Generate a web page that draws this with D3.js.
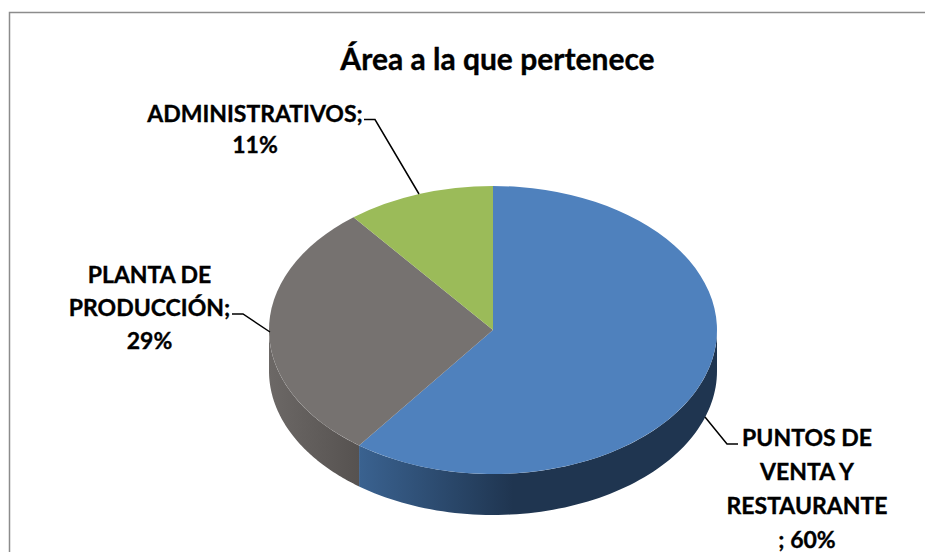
<!DOCTYPE html>
<html><head><meta charset="utf-8">
<script src="https://cdn.jsdelivr.net/npm/d3@7"></script>
<style>html,body{margin:0;padding:0;background:#fff;overflow:hidden}svg{display:block}text{font-family:Lato,"Open Sans",sans-serif;font-weight:700;fill:#000;stroke:#000;stroke-width:.35px}</style>
</head><body><div id="c"></div>
<script>
const categories = ["PUNTOS DE VENTA Y RESTAURANTE", "PLANTA DE PRODUCCIÓN", "ADMINISTRATIVOS"];
const values = [60.2, 29.1, 10.7];
const topColors = ["#4f81bd", "#767270", "#9bbb59"];
const sideColors = [["#3a6290", "#1f3550"], ["#6c6866", "#565250"], ["#7a9446", "#7a9446"]];
const labelLines = [["PUNTOS DE", "VENTA Y", "RESTAURANTE", "; 60%"], ["PLANTA DE", "PRODUCCIÓN;", "29%"], ["ADMINISTRATIVOS;", "11%"]];
const title = "Área a la que pertenece";

const W = 925, H = 552;
const cx = 493, cy = 330, rx = 224, ry = 144, depth = 41;
const svg = d3.select("#c").append("svg").attr("width", W).attr("height", H);

svg.append("rect").attr("x", 9.5).attr("y", 12.5).attr("width", 950).attr("height", 600)
  .attr("fill", "#fff").attr("stroke", "#8c8c8c").attr("stroke-width", 1.5);

const arcs = d3.pie().sort(null).value(d => d)(values);
const px = a => cx + rx * Math.sin(a), py = a => cy - ry * Math.cos(a);

const defs = svg.append("defs");
arcs.forEach((d, i) => {
  const lo = Math.max(d.startAngle, Math.PI / 2), hi = Math.min(d.endAngle, Math.PI * 1.5);
  if (hi <= lo) return;
  const g = defs.append("linearGradient").attr("id", "side" + i).attr("gradientUnits", "userSpaceOnUse")
    .attr("x1", px(hi)).attr("x2", i === 0 ? cx + 20 : px(lo)).attr("y1", 0).attr("y2", 0);
  g.append("stop").attr("offset", 0).attr("stop-color", sideColors[i][0]);
  g.append("stop").attr("offset", 1).attr("stop-color", sideColors[i][1]);
  const n = 80, as = d3.range(n + 1).map(k => lo + (hi - lo) * k / n);
  const pts = as.map(a => [px(a), py(a)]).concat(as.slice().reverse().map(a => [px(a), py(a) + depth]));
  svg.append("path").attr("d", d3.line()(pts) + "Z").attr("fill", `url(#side${i})`);
});

const arc = d3.arc().innerRadius(0).outerRadius(rx);
const topG = svg.append("g").attr("transform", `translate(${cx},${cy}) scale(1,${ry / rx})`);
topG.selectAll("path").data(arcs).join("path").attr("d", arc).attr("fill", (d, i) => topColors[i]);

const leaders = [
  [[705, 417], [727, 444], [738, 444]],
  [[270, 332], [243, 314], [232, 314]],
  [[419, 194], [375, 119.5], [364, 119.5]]
];
svg.append("g").selectAll("path").data(leaders).join("path")
  .attr("d", d => d3.line()(d)).attr("fill", "none").attr("stroke", "#000").attr("stroke-width", 1.5);

svg.append("text").attr("x", 497.5).attr("y", 70).attr("text-anchor", "middle").attr("font-size", 30).text(title);

const labelPos = [[807, 446, 34], [149.5, 283, 33], [255, 122, 31]];
labelLines.forEach((lines, i) => {
  lines.forEach((t, k) => {
    svg.append("text").attr("x", labelPos[i][0]).attr("y", labelPos[i][1] + k * labelPos[i][2])
      .attr("text-anchor", "middle").attr("font-size", 23).text(t);
  });
});
</script></body></html>
